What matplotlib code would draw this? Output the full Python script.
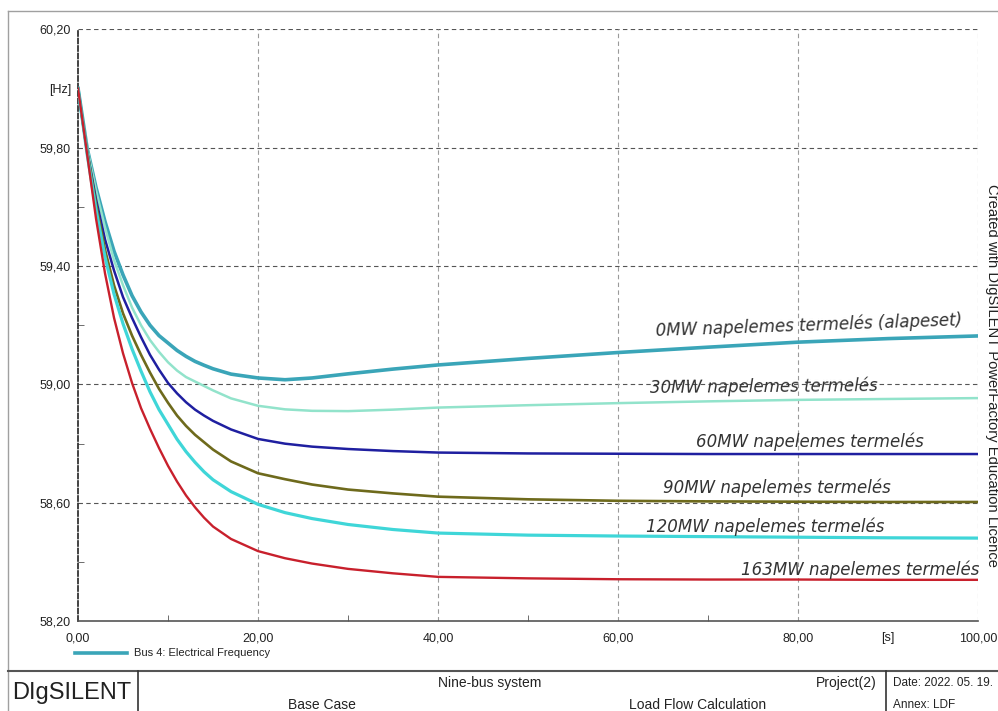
import matplotlib
matplotlib.use("Agg")
import matplotlib.pyplot as plt
from matplotlib.lines import Line2D
from matplotlib.ticker import FixedLocator

#==========================================================
# data
#==========================================================
t = [0, 1, 2, 3, 4, 5, 6, 7, 8, 9, 10, 11, 12, 13, 14, 15, 17, 20, 23, 26,
     30, 35, 40, 50, 60, 70, 80, 90, 100]

f_0mw = [60.00, 59.80, 59.665, 59.55, 59.45, 59.37, 59.30, 59.245, 59.20,
         59.165, 59.14, 59.115, 59.095, 59.078, 59.065, 59.053, 59.035, 59.022,
         59.016, 59.022, 59.036, 59.052, 59.066, 59.088, 59.108, 59.126,
         59.143, 59.155, 59.164]
f_30mw = [60.00, 59.80, 59.655, 59.53, 59.42, 59.335, 59.26, 59.20, 59.15,
          59.11, 59.075, 59.047, 59.025, 59.01, 58.995, 58.98, 58.953, 58.928,
          58.916, 58.911, 58.910, 58.915, 58.922, 58.930, 58.937, 58.943,
          58.948, 58.951, 58.954]
f_60mw = [60.00, 59.79, 59.625, 59.49, 59.385, 59.295, 59.225, 59.16, 59.10,
          59.05, 59.005, 58.97, 58.94, 58.915, 58.895, 58.877, 58.848, 58.816,
          58.80, 58.79, 58.782, 58.775, 58.770, 58.767, 58.766, 58.765, 58.765,
          58.765, 58.765]
f_90mw = [60.00, 59.79, 59.61, 59.455, 59.335, 59.24, 59.165, 59.10, 59.04,
          58.985, 58.938, 58.895, 58.86, 58.83, 58.805, 58.78, 58.74, 58.70,
          58.68, 58.662, 58.645, 58.632, 58.621, 58.612, 58.607, 58.605, 58.604,
          58.603, 58.603]
f_120mw = [60.00, 59.78, 59.59, 59.43, 59.305, 59.205, 59.12, 59.045, 58.975,
           58.915, 58.865, 58.815, 58.773, 58.737, 58.705, 58.678, 58.638,
           58.595, 58.567, 58.547, 58.527, 58.51, 58.498, 58.491, 58.488,
           58.486, 58.484, 58.482, 58.481]
f_163mw = [60.00, 59.78, 59.56, 59.375, 59.225, 59.105, 59.005, 58.92, 58.85,
           58.785, 58.725, 58.672, 58.625, 58.585, 58.55, 58.52, 58.478, 58.437,
           58.413, 58.395, 58.377, 58.362, 58.350, 58.345, 58.342, 58.341,
           58.341, 58.340, 58.340]

labels = ["0MW napelemes termelés (alapeset)", "30MW napelemes termelés",
          "60MW napelemes termelés", "90MW napelemes termelés",
          "120MW napelemes termelés", "163MW napelemes termelés"]
label_x = [81.2, 76.2, 81.3, 77.6, 76.4, 86.9]
label_y = [59.20, 58.992, 58.806, 58.65, 58.519, 58.374]
label_rot = [2.0, 0.5, 0, 0, 0, 0]

y_major = [58.2, 58.6, 59.0, 59.4, 59.8, 60.2]
y_minor = [58.4, 58.8, 59.2, 59.6]
x_major = [0, 20, 40, 60, 80, 100]
x_minor = [10, 30, 50, 70]

series = [f_0mw, f_30mw, f_60mw, f_90mw, f_120mw, f_163mw]
colors = ["#3aa5b8", "#92e3cb", "#1f1fa0", "#6e6a1c", "#3fd6d8", "#c8202c"]
widths = [2.6, 1.8, 1.8, 1.9, 2.3, 1.7]

#==========================================================
# figure
#==========================================================
plt.rcParams["font.family"] = ["Liberation Sans", "DejaVu Sans"]
fig = plt.figure(figsize=(9.98, 7.11), dpi=100)
ax = fig.add_axes([0.0782, 0.1262, 0.9018, 0.8326])

for f, c, lw in zip(series, colors, widths):
    ax.plot(t, f, color=c, lw=lw, solid_joinstyle="round", zorder=3)

for s, x, y, r in zip(labels, label_x, label_y, label_rot):
    ax.text(x, y, s, ha="center", va="center", rotation=r, fontsize=12,
            style="italic", family="DejaVu Sans", color="#333333", zorder=4)

ax.set_xlim(0, 100)
ax.set_ylim(58.2, 60.2)

# grid
for y in y_major[1:]:
    ax.axhline(y, color="#555555", lw=0.8, ls=(0, (4, 3)), zorder=1)
for x in x_major[1:]:
    ax.axvline(x, color="#9a9a9a", lw=0.8, ls=(0, (4, 3)), zorder=1)

for side in ["top", "right"]:
    ax.spines[side].set_visible(False)
ax.spines["left"].set_linestyle((0, (3, 1.5)))
ax.spines["left"].set_color("#222222")
ax.spines["left"].set_linewidth(1.2)
ax.spines["bottom"].set_color("#555555")
ax.spines["bottom"].set_linewidth(1.2)

ax.yaxis.set_major_locator(FixedLocator(y_major + [60.0]))
ax.set_yticklabels([("%.2f" % v).replace(".", ",") for v in y_major] + ["[Hz]"])
ax.yaxis.set_minor_locator(FixedLocator(y_minor))
ax.xaxis.set_major_locator(FixedLocator(x_major + [90]))
ax.set_xticklabels([("%.2f" % v).replace(".", ",") for v in x_major] + ["[s]"])
ax.xaxis.set_minor_locator(FixedLocator(x_minor))
ax.tick_params(axis="both", which="major", length=0, labelsize=9,
               labelcolor="#222222", pad=5)
ax.tick_params(axis="both", which="minor", direction="in", length=4,
               color="#555555")
ax.tick_params(axis="x", which="major", pad=8)

# legend line
fig.add_artist(Line2D([75 / 998, 127 / 998], [1 - 653 / 711] * 2,
                      color=colors[0], lw=2.6))
fig.text(134 / 998, 1 - 653 / 711, "Bus 4: Electrical Frequency", fontsize=8,
         va="center", color="#222222")

# side note
fig.text(992 / 998, 1 - 375 / 711,
         "Created with DIgSILENT PowerFactory Education Licence",
         rotation=-90, fontsize=10.6, ha="center", va="center", color="#222222")

# outer frame and title block
fig.add_artist(Line2D([8 / 998, 1.0], [1 - 11 / 711] * 2, color="#a0a0a0", lw=1))
fig.add_artist(Line2D([8 / 998] * 2, [0, 1 - 11 / 711], color="#a0a0a0", lw=1))
fig.add_artist(Line2D([8 / 998, 1.0], [1 - 671 / 711] * 2, color="#555555", lw=1.5))
for xv in [138, 886]:
    fig.add_artist(Line2D([xv / 998] * 2, [0, 1 - 671 / 711], color="#333333", lw=1.2))

fig.text(12 / 998, 1 - 693 / 711, "DIgSILENT", fontsize=17, va="center",
         color="#222222")
fig.text(490 / 998, 1 - 683 / 711, "Nine-bus system", fontsize=10, ha="center",
         va="center", color="#222222")
fig.text(322 / 998, 1 - 705 / 711, "Base Case", fontsize=10, ha="center",
         va="center", color="#222222")
fig.text(877 / 998, 1 - 683 / 711, "Project(2)", fontsize=10, ha="right",
         va="center", color="#222222")
fig.text(698 / 998, 1 - 705 / 711, "Load Flow Calculation", fontsize=10,
         ha="center", va="center", color="#222222")
fig.text(893 / 998, 1 - 683 / 711, "Date: 2022. 05. 19.", fontsize=8.5,
         va="center", color="#222222")
fig.text(893 / 998, 1 - 705 / 711, "Annex: LDF", fontsize=8.5,
         va="center", color="#222222")

fig.savefig("out.png", dpi=100)
